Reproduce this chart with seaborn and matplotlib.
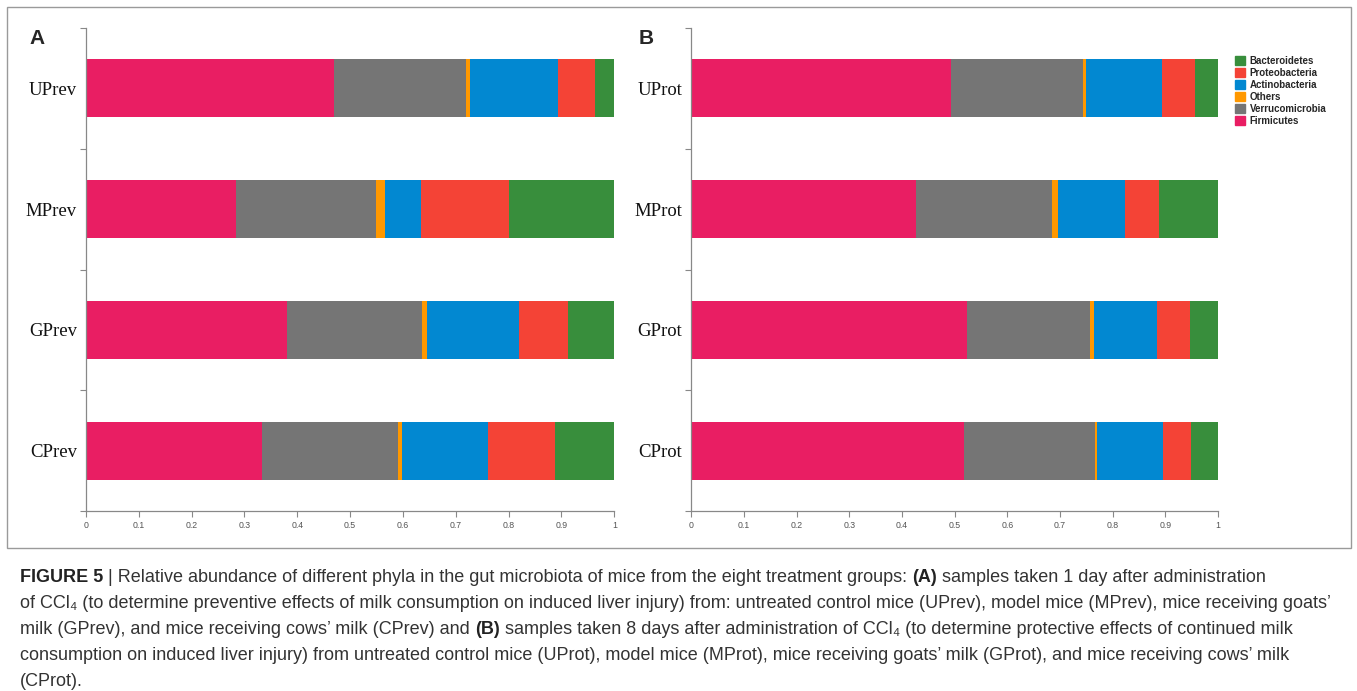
import numpy as np
import pandas as pd
import matplotlib
matplotlib.use("Agg")
import matplotlib.pyplot as plt
import seaborn as sns
from matplotlib.patches import Patch, Rectangle

# ---------------- data ----------------
phyla = ["Firmicutes", "Verrucomicrobia", "Others", "Actinobacteria", "Proteobacteria", "Bacteroidetes"]
colors = ["#E91E63", "#757575", "#FF9800", "#0288D1", "#F44336", "#388E3C"]

groups_a = ["UPrev", "MPrev", "GPrev", "CPrev"]
firmicutes_a = [0.469, 0.284, 0.380, 0.334]
verrucomicrobia_a = [0.250, 0.265, 0.256, 0.256]
others_a = [0.008, 0.017, 0.009, 0.008]
actinobacteria_a = [0.166, 0.069, 0.175, 0.163]
proteobacteria_a = [0.071, 0.166, 0.092, 0.127]
bacteroidetes_a = [0.036, 0.199, 0.088, 0.112]

groups_b = ["UProt", "MProt", "GProt", "CProt"]
firmicutes_b = [0.493, 0.427, 0.524, 0.518]
verrucomicrobia_b = [0.251, 0.258, 0.233, 0.249]
others_b = [0.006, 0.011, 0.008, 0.004]
actinobacteria_b = [0.143, 0.127, 0.119, 0.125]
proteobacteria_b = [0.063, 0.065, 0.063, 0.053]
bacteroidetes_b = [0.044, 0.112, 0.053, 0.051]

x_ticks = [0, 0.1, 0.2, 0.3, 0.4, 0.5, 0.6, 0.7, 0.8, 0.9, 1]
x_tick_labels = ["0", "0.1", "0.2", "0.3", "0.4", "0.5", "0.6", "0.7", "0.8", "0.9", "1"]

caption_lines = [
    [("FIGURE 5", "bold"), (" | Relative abundance of different phyla in the gut microbiota of mice from the eight treatment groups: ", "normal"),
     ("(A)", "bold"), (" samples taken 1 day after administration", "normal")],
    [("of CCl\u2084 (to determine preventive effects of milk consumption on induced liver injury) from: untreated control mice (UPrev), model mice (MPrev), mice receiving goats\u2019", "normal")],
    [("milk (GPrev), and mice receiving cows\u2019 milk (CPrev) and ", "normal"), ("(B)", "bold"),
     (" samples taken 8 days after administration of CCl\u2084 (to determine protective effects of continued milk", "normal")],
    [("consumption on induced liver injury) from untreated control mice (UProt), model mice (MProt), mice receiving goats\u2019 milk (GProt), and mice receiving cows\u2019 milk", "normal")],
    [("(CProt).", "normal")],
]

# ---------------- style ----------------
sns.set_style("ticks")
plt.rcParams["font.family"] = ["Liberation Sans", "DejaVu Sans"]

W, H = 1357, 691
fig = plt.figure(figsize=(W / 100, H / 100), dpi=100)


def fx(px):
    return px / W


def fy(py):
    return 1 - py / H


def panel(ax, groups, cols):
    df = pd.DataFrame(dict(zip(phyla, cols)), index=groups)
    cum = df.cumsum(axis=1)
    for ph, col in reversed(list(zip(phyla, colors))):
        sns.barplot(x=cum[ph].values, y=groups, order=groups, orient="h", color=col,
                    saturation=1, width=0.48, linewidth=0, ax=ax)
    ax.set_xlim(0, 1)
    ax.set_ylim(3.5, -0.5)
    ax.set_xlabel("")
    ax.set_ylabel("")
    ax.set_xticks(x_ticks)
    ax.set_xticklabels(x_tick_labels, fontsize=6.3, color="#555555")
    ax.set_yticks(range(len(groups)))
    ax.set_yticklabels(groups, fontfamily="Liberation Serif", fontsize=13.5, color="#111111")
    ax.set_yticks([-0.5, 0.5, 1.5, 2.5, 3.5], minor=True)
    ax.tick_params(axis="y", which="major", length=0, pad=6.5)
    ax.tick_params(axis="y", which="minor", length=4, width=0.8, color="#888888")
    ax.tick_params(axis="x", which="major", length=4, width=0.8, color="#888888", pad=3)
    for s in ["top", "right"]:
        ax.spines[s].set_visible(False)
    for s in ["left", "bottom"]:
        ax.spines[s].set_color("#888888")
        ax.spines[s].set_linewidth(0.9)


ax_a = fig.add_axes([fx(86), fy(511), fx(614.3) - fx(86), (511 - 28) / H])
ax_b = fig.add_axes([fx(691.3), fy(511), fx(1218) - fx(691.3), (511 - 28) / H])

panel(ax_a, groups_a, [firmicutes_a, verrucomicrobia_a, others_a, actinobacteria_a, proteobacteria_a, bacteroidetes_a])
panel(ax_b, groups_b, [firmicutes_b, verrucomicrobia_b, others_b, actinobacteria_b, proteobacteria_b, bacteroidetes_b])

# legend (top-down order as in reference)
leg_order = list(reversed(range(len(phyla))))
handles = [Patch(facecolor=colors[i], edgecolor=colors[i], label=phyla[i]) for i in leg_order]
fig.legend(handles=handles, loc="upper left", bbox_to_anchor=(fx(1235), fy(56)), frameon=False,
           prop={"size": 7.0, "weight": "bold"}, handlelength=1.0, handleheight=1.0,
           labelspacing=0.2, handletextpad=0.5, borderaxespad=0, borderpad=0)

# panel letters
fig.text(fx(29), fy(38), "A", fontsize=15, fontweight="bold", va="center", ha="left")
fig.text(fx(639), fy(38), "B", fontsize=15, fontweight="bold", va="center", ha="left")

# frame around the chart
fig.add_artist(Rectangle((fx(7), fy(548)), fx(1351) - fx(7), (548 - 7) / H, transform=fig.transFigure,
                         fill=False, edgecolor="#9a9a9a", linewidth=1.0))

# caption
cap = fig.add_axes([0, 0, 1, 1])
cap.set_xlim(0, W)
cap.set_ylim(H, 0)
cap.axis("off")
cap.patch.set_alpha(0)
cap_font = ["Liberation Sans", "DejaVu Sans"]
y0 = 586
for i, line in enumerate(caption_lines):
    prev = None
    for txt, wt in line:
        col = "#222222" if wt == "bold" else "#333333"
        if prev is None:
            prev = cap.text(20, y0 + i * 26, txt, fontsize=13.0, fontweight=wt, family=cap_font,
                            color=col, va="bottom", ha="left")
        else:
            prev = cap.annotate(txt, xy=(1, 0), xycoords=prev, va="bottom", ha="left",
                                fontsize=13.0, fontweight=wt, family=cap_font, color=col)

fig.savefig("out.png", dpi=100)
